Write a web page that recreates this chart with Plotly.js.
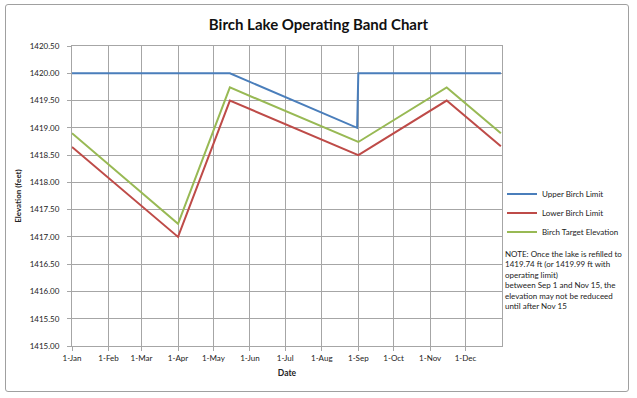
<!DOCTYPE html>
<html>
<head>
<meta charset="utf-8">
<script src="https://cdn.plot.ly/plotly-3.0.1.min.js"></script>
<style>
  html, body { margin: 0; padding: 0; background: #fff; }
  #chart { position: absolute; left: 0; top: 0; width: 637px; height: 398px; }
  #frame { position: absolute; left: 5px; top: 4px; width: 622px; height: 386px;
           border: 1.5px solid #a0a0a0; border-radius: 3px; pointer-events: none; }
</style>
</head>
<body>
<div id="chart"></div>
<div id="frame"></div>
<script>
// Data
const upperDates = ['2013-01-01', '2013-05-15', '2013-08-31', '2013-09-01', '2013-12-31'];
const upperValues = [1420.00, 1420.00, 1419.00, 1420.00, 1420.00];

const lowerDates = ['2013-01-01', '2013-04-01', '2013-05-15', '2013-09-01', '2013-11-15', '2013-12-31'];
const lowerValues = [1418.65, 1417.00, 1419.50, 1418.50, 1419.50, 1418.66];

const targetDates = ['2013-01-01', '2013-04-01', '2013-05-15', '2013-09-01', '2013-11-15', '2013-12-31'];
const targetValues = [1418.90, 1417.24, 1419.74, 1418.74, 1419.74, 1418.90];

const seriesNames = ['Upper Birch Limit', 'Lower Birch Limit', 'Birch Target Elevation'];
const noteText = 'NOTE: Once the lake is refilled to<br>1419.74 ft (or 1419.99 ft with<br>operating limit)<br>between Sep 1 and Nov 15, the<br>elevation may not be reduceed<br>until after Nov 15';

const FONT = 'Lato, "Open Sans", "Liberation Sans", sans-serif';
const GRID = '#a6a6a6';

const traces = [
  { x: upperDates, y: upperValues, name: seriesNames[0], mode: 'lines', line: { color: '#4a7ebb', width: 2 } },
  { x: lowerDates, y: lowerValues, name: seriesNames[1], mode: 'lines', line: { color: '#be4b48', width: 2 } },
  { x: targetDates, y: targetValues, name: seriesNames[2], mode: 'lines', line: { color: '#98b954', width: 2 } }
];

const layout = {
  width: 637, height: 398,
  margin: { l: 72, r: 135, t: 46, b: 52 },
  paper_bgcolor: '#ffffff', plot_bgcolor: '#ffffff',
  font: { family: FONT, color: '#222', size: 9 },
  title: { text: '<b>Birch Lake Operating Band Chart</b>', font: { family: FONT, size: 15, color: '#111' },
           x: 0.5, xanchor: 'center', y: 0.937, yanchor: 'middle' },
  xaxis: {
    type: 'date', range: ['2013-01-01', '2013-12-31 23:00'],
    tick0: '2013-01-01', dtick: 'M1', tickformat: '%-d-%b',
    showgrid: true, gridcolor: GRID, gridwidth: 1,
    showline: true, linecolor: GRID, linewidth: 1, mirror: true,
    ticks: 'outside', ticklen: 4, tickcolor: GRID,
    tickfont: { size: 8, color: '#222' },
    zeroline: false,
    title: { text: '<b>Date</b>', font: { size: 8.5, color: '#222' }, standoff: 8 }
  },
  yaxis: {
    range: [1415, 1420.5], dtick: 0.5, tickformat: '.2f',
    showgrid: true, gridcolor: GRID, gridwidth: 1,
    showline: true, linecolor: GRID, linewidth: 1, mirror: true,
    ticks: 'outside', ticklen: 4, tickcolor: GRID,
    ticklabelstandoff: 6,
    tickfont: { size: 8, color: '#222' },
    zeroline: false,
    title: { text: '<b>Elevation (feet)</b>', font: { size: 8, color: '#222' }, standoff: 6 }
  },
  showlegend: true,
  legend: {
    x: 1.0, xanchor: 'left', y: 0.555, yanchor: 'top',
    font: { size: 8, color: '#222' }, bgcolor: 'rgba(0,0,0,0)',
    tracegroupgap: 0
  },
  annotations: [{
    xref: 'paper', yref: 'paper', x: 1.003, y: 0.33, xanchor: 'left', yanchor: 'top',
    align: 'left', showarrow: false, text: noteText,
    font: { size: 8, color: '#222', family: FONT }
  }]
};

Plotly.newPlot('chart', traces, layout, { displayModeBar: false, staticPlot: true });
</script>
</body>
</html>
